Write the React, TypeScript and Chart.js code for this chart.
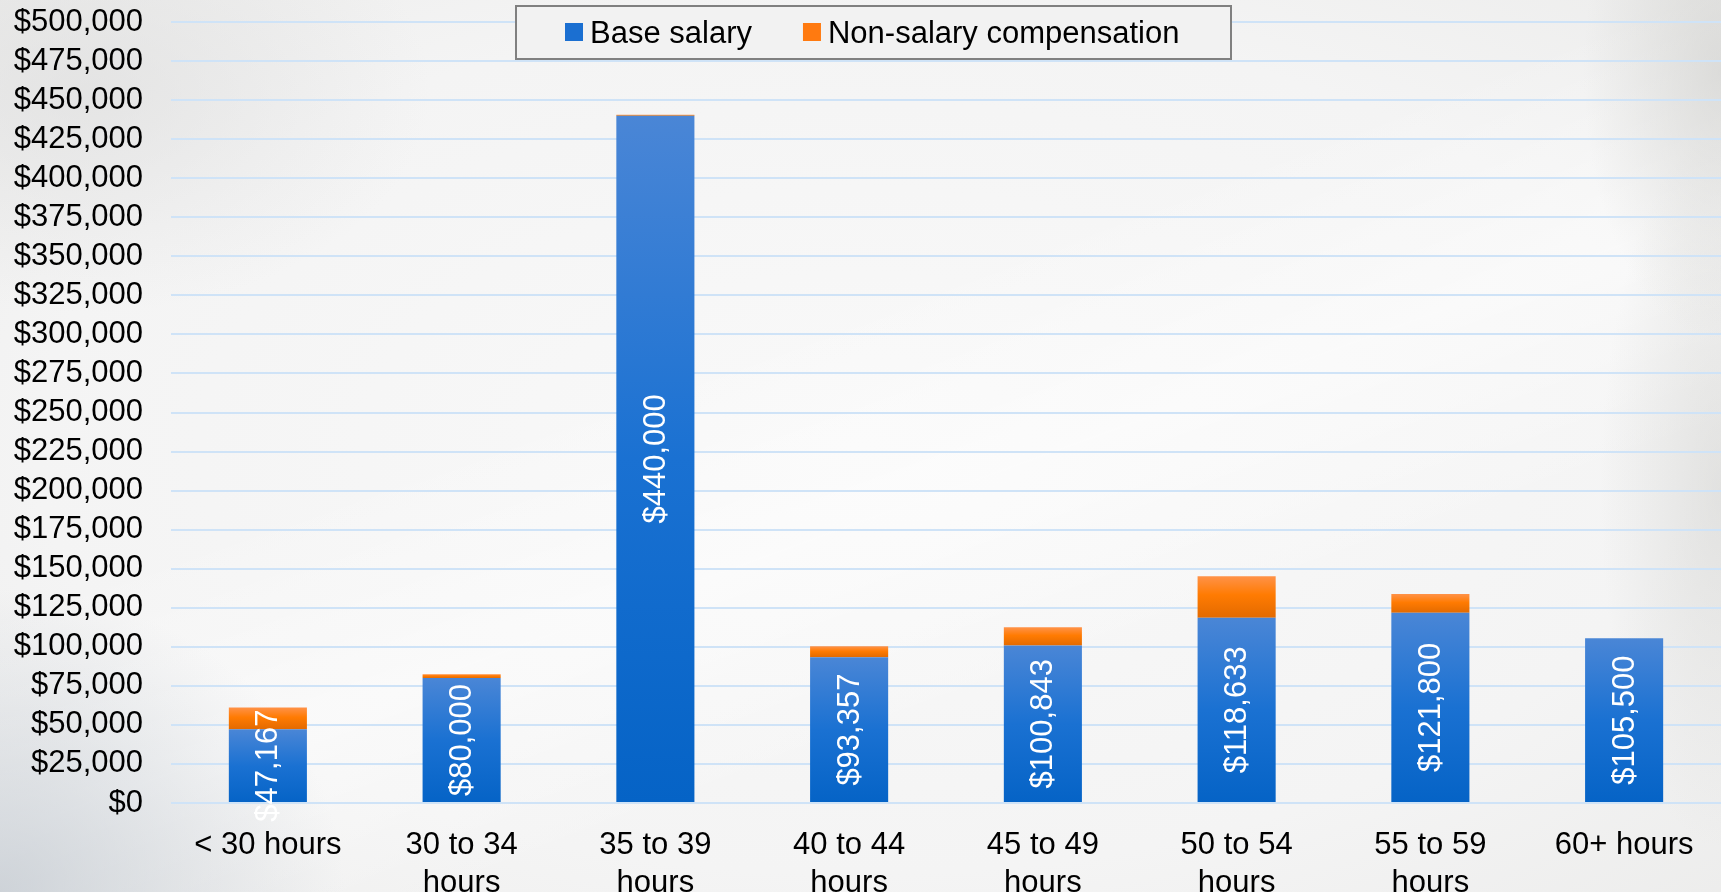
import React, { useEffect, useRef } from "react";
import { Chart, registerables } from "chart.js";

Chart.register(...registerables);

const CATEGORIES: string[][] = [
  ["< 30 hours"],
  ["30 to 34", "hours"],
  ["35 to 39", "hours"],
  ["40 to 44", "hours"],
  ["45 to 49", "hours"],
  ["50 to 54", "hours"],
  ["55 to 59", "hours"],
  ["60+ hours"],
];
const BASE_SALARY = [47167, 80000, 440000, 93357, 100843, 118633, 121800, 105500];
const NON_SALARY = [14000, 2500, 700, 7000, 11600, 26500, 12000, 0];
const SERIES_LABELS = ["Base salary", "Non-salary compensation"];
const Y_MIN = 0;
const Y_MAX = 500000;
const Y_STEP = 25000;

const FONT = "'Liberation Sans', Arial, sans-serif";
const FONT_SIZE = 31;
const W = 1721;
const H = 912;
const PLOT_TOP_PAD = 22;
const PLOT_BOTTOM = 803;
const PLOT_LEFT = 171;

const BLUE_STOPS: [number, string][] = [
  [0, "#4a86d6"],
  [0.5, "#1a71d2"],
  [1, "#0563c6"],
];
const ORANGE_STOPS: [number, string][] = [
  [0, "#ff9248"],
  [0.45, "#ff7b02"],
  [1, "#e36a00"],
];
const SWATCHES = ["#1b6fd1", "#ff7a10"];

const fmt = (v: number) => "$" + Math.round(v).toLocaleString("en-US");

function gradientFor(stops: [number, string][]) {
  return (c: any) => {
    const chart = c.chart;
    const fallback = stops[1][1];
    if (c.type !== "data" || !chart.chartArea) return fallback;
    const yScale = chart.scales.y;
    if (!yScale) return fallback;
    const di = c.dataIndex;
    const dsi = c.datasetIndex;
    let base = 0;
    for (let i = 0; i < dsi; i++) base += chart.data.datasets[i].data[di] as number;
    const v = chart.data.datasets[dsi].data[di] as number;
    const top = yScale.getPixelForValue(base + v);
    const bottom = yScale.getPixelForValue(base);
    if (!isFinite(top) || !isFinite(bottom) || bottom - top < 1) return fallback;
    const g = chart.ctx.createLinearGradient(0, top, 0, bottom);
    stops.forEach(([o, col]) => g.addColorStop(o, col));
    return g;
  };
}

const dataLabelPlugin = {
  id: "barValueLabels",
  afterDatasetsDraw(chart: any) {
    const ctx = chart.ctx;
    const meta = chart.getDatasetMeta(0);
    ctx.save();
    ctx.font = `${FONT_SIZE}px ${FONT}`;
    ctx.fillStyle = "#ffffff";
    ctx.textAlign = "center";
    ctx.textBaseline = "middle";
    meta.data.forEach((bar: any, i: number) => {
      const { x, y, base } = bar.getProps(["x", "y", "base"], true);
      ctx.save();
      ctx.translate(x + 1, (y + base) / 2);
      ctx.rotate(-Math.PI / 2);
      ctx.fillText(fmt(chart.data.datasets[0].data[i]), 0, 0);
      ctx.restore();
    });
    ctx.restore();
  },
};

const boxLegendPlugin = {
  id: "boxLegend",
  afterDraw(chart: any) {
    const ctx = chart.ctx;
    const bx = 516, by = 6, bw = 715, bh = 53;
    ctx.save();
    ctx.fillStyle = "#f2f2f2";
    ctx.fillRect(bx, by, bw, bh);
    ctx.strokeStyle = "#808080";
    ctx.lineWidth = 2;
    ctx.strokeRect(bx, by, bw, bh);
    ctx.font = `${FONT_SIZE}px ${FONT}`;
    ctx.textBaseline = "alphabetic";
    ctx.textAlign = "left";
    let x = 565;
    chart.data.datasets.forEach((ds: any, i: number) => {
      ctx.fillStyle = SWATCHES[i];
      ctx.fillRect(x, 23, 18, 18);
      x += 25;
      ctx.fillStyle = "#000000";
      ctx.fillText(ds.label, x, 43);
      x += ctx.measureText(ds.label).width + 51;
    });
    ctx.restore();
  },
};

export default function App() {
  const canvasRef = useRef<HTMLCanvasElement | null>(null);

  useEffect(() => {
    if (!canvasRef.current) return;
    const chart = new Chart(canvasRef.current, {
      type: "bar",
      data: {
        labels: CATEGORIES,
        datasets: [
          {
            label: SERIES_LABELS[0],
            data: BASE_SALARY,
            backgroundColor: gradientFor(BLUE_STOPS),
            borderWidth: 0,
            stack: "s",
          },
          {
            label: SERIES_LABELS[1],
            data: NON_SALARY,
            backgroundColor: gradientFor(ORANGE_STOPS),
            borderWidth: 0,
            stack: "s",
          },
        ],
      },
      options: {
        responsive: false,
        animation: false,
        events: [],
        layout: { padding: { top: PLOT_TOP_PAD, left: 0, right: 0, bottom: 0 } },
        datasets: {
          bar: { categoryPercentage: 1, barPercentage: 0.403 },
        },
        plugins: {
          legend: { display: false },
          tooltip: { enabled: false },
          title: { display: false },
        },
        scales: {
          x: {
            stacked: true,
            grid: { display: false, drawTicks: false },
            border: { display: false },
            ticks: {
              color: "#000000",
              padding: 24,
              maxRotation: 0,
              autoSkip: false,
              font: { family: FONT, size: FONT_SIZE, lineHeight: 1.22 },
            },
            afterFit: (s: any) => {
              s.height = H - PLOT_BOTTOM;
            },
          },
          y: {
            stacked: true,
            min: Y_MIN,
            max: Y_MAX,
            grid: {
              color: "#cfe3f7",
              lineWidth: 2,
              drawTicks: true,
              tickLength: 28,
              tickColor: "rgba(0,0,0,0)",
            },
            border: { display: false },
            ticks: {
              stepSize: Y_STEP,
              autoSkip: false,
              maxTicksLimit: 30,
              color: "#000000",
              padding: 0,
              font: { family: FONT, size: FONT_SIZE },
              callback: (v: any) => fmt(Number(v)),
            },
            afterFit: (s: any) => {
              s.width = PLOT_LEFT;
            },
          },
        },
      },
      plugins: [dataLabelPlugin, boxLegendPlugin],
    });
    return () => chart.destroy();
  }, []);

  return (
    <div
      style={{
        position: "fixed",
        left: 0,
        top: 0,
        width: W,
        height: 892,
        overflow: "hidden",
        background:
          "radial-gradient(ellipse 20% 34% at 0% 100%, rgba(190,197,205,0.7), rgba(190,197,205,0) 100%)," +
          "radial-gradient(ellipse 8% 30% at 100% 8%, rgba(205,205,202,0.6), rgba(205,205,202,0) 100%)," +
          "radial-gradient(ellipse 7% 40% at 100% 55%, rgba(208,208,205,0.5), rgba(208,208,205,0) 100%)," +
          "radial-gradient(ellipse 20% 25% at 5% 10%, rgba(218,218,218,0.55), rgba(218,218,218,0) 100%)," +
          "linear-gradient(160deg, rgba(255,255,255,0) 40%, rgba(255,255,255,0.5) 55%, rgba(255,255,255,0) 70%)," +
          "radial-gradient(ellipse 80% 80% at 50% 50%, #f9f9f9 0%, #f4f4f4 60%, #eaeae9 100%)",
      }}
    >
      <canvas ref={canvasRef} width={W} height={H} style={{ display: "block" }} />
    </div>
  );
}
